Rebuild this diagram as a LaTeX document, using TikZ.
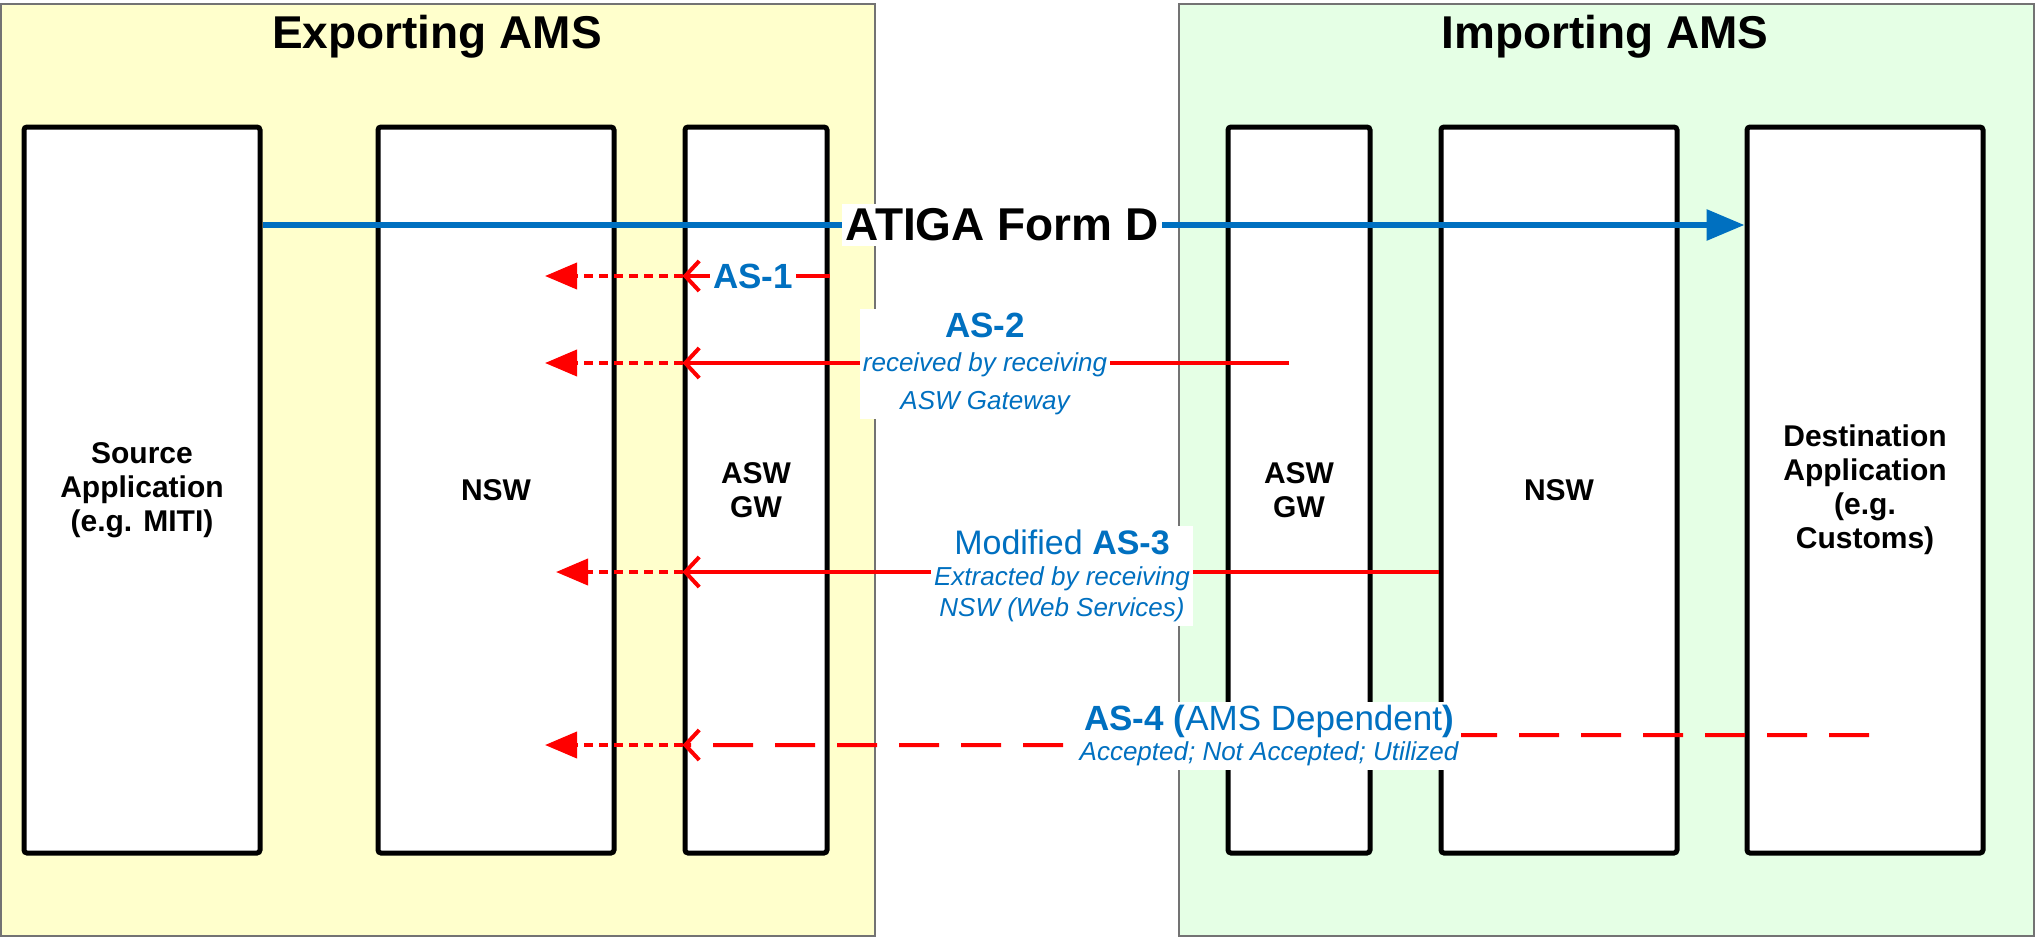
\documentclass[tikz,border=0pt]{standalone}
\usepackage{fontspec}
\setmainfont{Liberation Sans}
\usetikzlibrary{arrows.meta}
\definecolor{panelY}{HTML}{FFFFCC}
\definecolor{panelG}{HTML}{E5FFE5}
\definecolor{atblue}{HTML}{0070C0}
\begin{document}
\begin{tikzpicture}[x=1pt,y=-1pt,
  panel/.style={draw=black!55, line width=1.5pt, anchor=north west, inner sep=0pt, minimum height=932pt},
  titletext/.style={font=\fontsize{46}{50}\selectfont\bfseries, anchor=base},
  lane/.style={draw=black, fill=white, line width=5pt, rounded corners=3pt, minimum height=726pt, align=center, font=\fontsize{30}{34}\selectfont\bfseries, inner sep=0pt},
  formline/.style={draw=atblue, line width=6pt, -{Triangle[length=38pt,width=30pt]}},
  solidred/.style={draw=red, line width=4pt, -{Straight Barb[length=14pt,width=30pt]}},
  dashred/.style={solidred, dash pattern=on 40pt off 22pt},
  dotred/.style={draw=red, line width=4pt, dash pattern=on 9pt off 6pt, -{Triangle[length=32pt,width=26pt]}},
  lab/.style={fill=white, text=atblue, align=center, inner xsep=3pt, inner ysep=4pt},
]
\useasboundingbox (0,0) rectangle (2035,937);

% panels
\node[panel, fill=panelY, minimum width=874pt] (exp) at (0,3) {};
\node[panel, fill=panelG, minimum width=855pt] (imp) at (1178,3) {};
\node[titletext] (expT) at (437,48) {Exporting AMS};
\node[titletext] (impT) at (1605,48) {Importing AMS};

% lanes
\node[lane, minimum width=236pt] (src) at (142,490) {Source\\Application\\(e.g. MITI)};
\node[lane, minimum width=236pt] (nsw1) at (496,490) {NSW};
\node[lane, minimum width=142pt] (gw1) at (756,490) {ASW\\GW};
\node[lane, minimum width=142pt] (gw2) at (1299,490) {ASW\\GW};
\node[lane, minimum width=236pt] (nsw2) at (1559,490) {NSW};
\node[lane, minimum width=236pt] (dst) at (1865,490) {Destination\\Application\\(e.g.\\Customs)};

% coordinates
\coordinate (yA) at (0,225);
\coordinate (y1) at (0,276);
\coordinate (y2) at (0,363);
\coordinate (y3) at (0,572);
\coordinate (y4) at (0,745);
\coordinate (t1) at (545,276);
\coordinate (t2) at (545,363);
\coordinate (t3) at (556,572);
\coordinate (t4) at (545,745);
\coordinate (s2) at (1289,363);
\coordinate (s4) at (1869,735);
\coordinate (k1) at (1440,735);
\coordinate (k2) at (1100,745);

% ATIGA Form D
\draw[formline] (src.east |- yA) -- (dst.west |- yA);

% AS-1
\draw[solidred] (gw1.east |- y1) -- (gw1.west |- y1);
\draw[dotred] (gw1.west |- y1) -- (t1);
% AS-2
\draw[solidred] (s2) -- (gw1.west |- y2);
\draw[dotred] (gw1.west |- y2) -- (t2);
% AS-3
\draw[solidred] (nsw2.west |- y3) -- (gw1.west |- y3);
\draw[dotred] (gw1.west |- y3) -- (t3);
% AS-4
\draw[dashred] (s4) -- (k1) -- (k2) -- (gw1.west |- y4);
\draw[dotred] (gw1.west |- y4) -- (t4);

% labels
\node[fill=white, inner xsep=3pt, inner ysep=5pt, font=\fontsize{46}{50}\selectfont\bfseries] (atiga) at (1002,225) {ATIGA Form D};
\node[lab, font=\fontsize{35}{36}\selectfont\bfseries] (l1) at (753,276) {AS-1};
\node[lab, font=\fontsize{26}{38}\selectfont\itshape] (l2) at (985,364)
  {{\fontsize{35}{35}\selectfont\bfseries\upshape AS-2}\\[-4pt]received by receiving\\ASW Gateway};
\node[lab, font=\fontsize{26}{31}\selectfont\itshape] (l3) at (1062,576)
  {{\fontsize{34}{34}\selectfont\upshape Modified \bfseries AS-3}\\Extracted by receiving\\NSW (Web Services)};
\node[lab, font=\fontsize{26}{30}\selectfont\itshape] (l4) at (1269,736)
  {{\fontsize{35}{35}\selectfont\upshape\bfseries AS-4 (\mdseries AMS Dependent\bfseries)}\\Accepted; Not Accepted; Utilized};
\end{tikzpicture}
\end{document}
